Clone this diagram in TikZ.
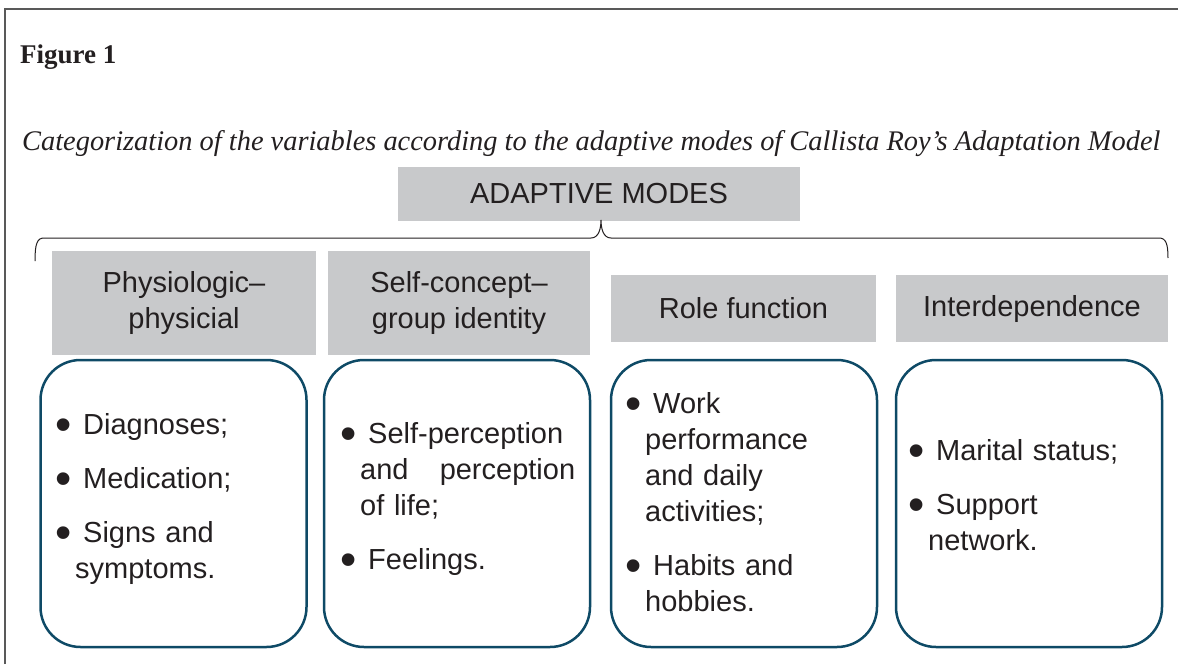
\documentclass[tikz,border=0pt]{standalone}
\usepackage{fontspec}
\setmainfont{Liberation Serif}
\setsansfont{Liberation Sans}
\definecolor{modegray}{HTML}{C8C9CB}
\definecolor{boxblue}{HTML}{0E4A66}
\definecolor{ink}{HTML}{231F20}
\newcommand{\itm}[1]{{\leftskip=20pt\noindent\hspace*{-20pt}%
  \makebox[20pt][l]{\raisebox{-6.5pt}{\scalebox{1.6}{\textbullet}}}\hspace*{8pt}#1\par}}

\begin{document}
\begin{tikzpicture}[x=1pt,y=-1pt,
	  every node/.append style={inner sep=0pt,text=ink},
	  head/.style={fill=modegray,font=\sffamily\fontsize{29}{36}\selectfont,align=center},
	  list/.style={draw=boxblue,line width=2.5pt,rounded corners=40pt,
	    minimum width=266pt,minimum height=287pt},
	  items/.style={anchor=base west,text width=235pt,
	    font=\sffamily\fontsize{29}{36}\selectfont,
	    execute at begin node={\setlength{\parskip}{18pt}}}]
	  \tikzstyle{frame} = [draw=black!65,line width=1.5pt]
	  \useasboundingbox (0,0) rectangle (1178,664);
	  \draw[frame] (5,664) -- (5,9) -- (1178,9);
	  \node (fig) [anchor=base west,font=\bfseries\fontsize{27}{30}\selectfont] at (20,63) {Figure 1};
	  \node (cap) [anchor=base west,font=\itshape\fontsize{28.4}{30}\selectfont] at (22,150)
	    {Categorization of the variables according to the adaptive modes of Callista Roy's Adaptation Model};
	  \node (mode) [head,minimum width=402pt,minimum height=54pt] at (599,194) {ADAPTIVE MODES};
	  % brace under the adaptive modes
	  \coordinate (br_l) at (35,261);
	  \coordinate (br_t) at (601,220);
	  \coordinate (br_r) at (1168,258);
	  \draw[ink,line width=1pt] (br_l) .. controls +(0,-17) and +(-7,0) .. (44,238) -- (591,238)
	    .. controls +(8,0) and +(0,8) .. (br_t) .. controls +(0,8) and +(-8,0) .. (611,238)
	    -- (1159,238) .. controls +(7,0) and +(0,-14) .. (br_r);
	  % the four modes
	  \node (h_1) [head,minimum width=264pt,minimum height=104pt] at (184,303) {Physiologic--\\physicial};
	  \node (h_2) [head,minimum width=262pt,minimum height=104pt] at (459,303) {Self-concept--\\group identity};
	  \node (h_3) [head,minimum width=265pt,minimum height=67pt] at (743.5,308.5) {Role function};
	  \node (h_4) [head,minimum width=272pt,minimum height=67pt] at (1032,308.5) {Interdependence};
	  % variables of each mode
	  \node (b_1) [list] at (173.5,503.5) {};
	  \node (b_2) [list] at (457,503.5) {};
	  \node (b_3) [list] at (744,503.5) {};
	  \node (b_4) [list] at (1029,503.5) {};
	  \node (t_1) [items] at (55,434) {\itm{Diagnoses;}\itm{Medication;}\itm{Signs and\\symptoms.}};
	  \node (t_2) [items] at (340,443) {\itm{Self-perception\\and\hfill perception\\of life;}\itm{Feelings.}};
	  \node (t_3) [items] at (625,413) {\itm{Work\\performance\\and daily\\activities;}\itm{Habits and\\hobbies.}};
	  \node (t_4) [items] at (908,460) {\itm{Marital status;}\itm{Support\\network.}};
	\end{tikzpicture}
\end{document}
